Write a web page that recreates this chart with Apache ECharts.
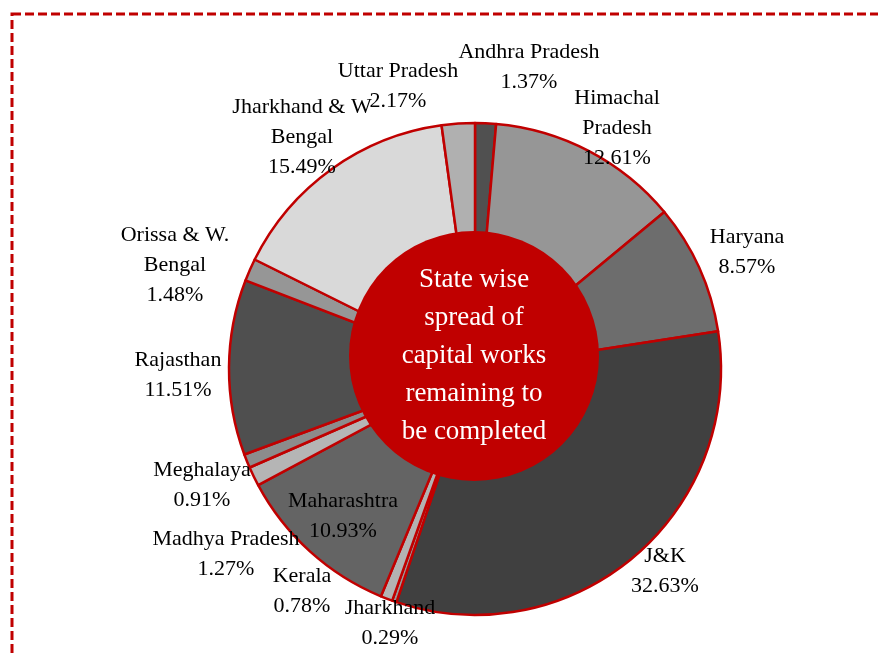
<!DOCTYPE html>
<html>
<head>
<meta charset="utf-8">
<script src="https://cdn.jsdelivr.net/npm/echarts@6/dist/echarts.min.js"></script>
<style>
  html, body { margin: 0; padding: 0; background: #fff; }
  #chart { width: 878px; height: 654px; }
</style>
</head>
<body>
<div id="chart"></div>
<script>
// slice data, clockwise from 12 o'clock
const states = ['Andhra Pradesh', 'Himachal Pradesh', 'Haryana', 'J&K', 'Jharkhand', 'Kerala',
  'Maharashtra', 'Madhya Pradesh', 'Meghalaya', 'Rajasthan', 'Orissa & W. Bengal',
  'Jharkhand & W Bengal', 'Uttar Pradesh'];
const shares = [1.37, 12.61, 8.57, 32.63, 0.29, 0.78, 10.93, 1.27, 0.91, 11.51, 1.48, 15.49, 2.17];
const labelNames = ['Andhra Pradesh', 'Himachal\nPradesh', 'Haryana', 'J&K', 'Jharkhand', 'Kerala',
  'Maharashtra', 'Madhya Pradesh', 'Meghalaya', 'Rajasthan', 'Orissa & W.\nBengal',
  'Jharkhand & W\nBengal', 'Uttar Pradesh'];

// look
const sliceColors = ['#505050', '#969696', '#6d6d6d', '#404040', '#9a9a9a', '#b3b3b3',
  '#646464', '#b5b5b5', '#8c8c8c', '#4f4f4f', '#969696', '#d9d9d9', '#b0b0b0'];
const labelPos = [[529, 67], [617, 128], [747, 252], [665, 571], [390, 623], [302, 591],
  [343, 516], [226, 554], [202, 485], [178, 375], [175, 265], [302, 137], [398, 86]];
const RED = '#c00000';
const FONT = '"Liberation Serif", "DejaVu Serif", serif';

const chart = echarts.init(document.getElementById('chart'));

chart.setOption({
  animation: false,
  graphic: [
    {
      type: 'rect',
      z: 100,
      shape: { x: 12, y: 14, width: 900, height: 700 },
      style: { fill: 'none', stroke: RED, lineWidth: 3, lineDash: [9, 4] }
    },
    {
      type: 'circle',
      z: 100,
      shape: { cx: 474, cy: 356, r: 125 },
      style: { fill: RED }
    },
    {
      type: 'text',
      z: 101,
      x: 474,
      y: 356,
      style: {
        text: 'State wise\nspread of\ncapital works\nremaining to\nbe completed',
        fill: '#fff',
        font: '27px ' + FONT,
        lineHeight: 38,
        align: 'center',
        verticalAlign: 'middle'
      }
    }
  ],
  series: [
    {
      type: 'pie',
      center: [475, 369],
      radius: [0, 246],
      startAngle: 90,
      clockwise: true,
      sort: 'none',
      avoidLabelOverlap: false,
      itemStyle: { borderColor: RED, borderWidth: 2.5 },
      emphasis: { disabled: true },
      label: {
        show: true,
        position: 'outside',
        color: '#000',
        fontFamily: FONT,
        fontSize: 22,
        lineHeight: 30,
        align: 'center',
        formatter: p => labelNames[p.dataIndex] + '\n' + p.value.toFixed(2) + '%'
      },
      labelLine: { show: false },
      labelLayout: p => ({
        x: labelPos[p.dataIndex][0],
        y: labelPos[p.dataIndex][1],
        align: 'center',
        verticalAlign: 'middle'
      }),
      data: states.map((s, i) => ({
        name: s,
        value: shares[i],
        itemStyle: { color: sliceColors[i] }
      }))
    }
  ]
});
</script>
</body>
</html>
